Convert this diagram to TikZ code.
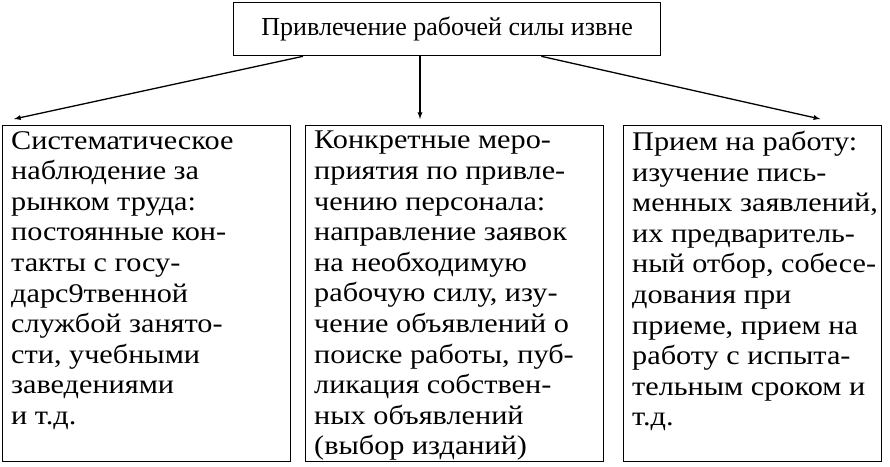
\documentclass[tikz,border=0pt]{standalone}
\usepackage{fontspec}
\setmainfont{Liberation Serif}
\newfontfamily\boxfont[FakeStretch=1.12]{Liberation Serif}
\usetikzlibrary{positioning}
\tikzset{
  box/.style={draw, line width=1.3pt, inner sep=0pt},
  txt/.style={align=left, inner sep=0pt, font=\boxfont\fontsize{27}{30.6}\selectfont},
  arr/.style={->, >=latex, line width=1.3pt}
}
\begin{document}
\begin{tikzpicture}[x=1pt,y=-1pt]
        \useasboundingbox (0,0) rectangle (890,466);
        \node (top) [box, minimum width=427, minimum height=53, anchor=north west] at (233,2) {};
        \node (toptxt) [txt, font=\fontsize{26}{30}\selectfont, anchor=center] at (top.center) {Привлечение рабочей силы извне};

        \node (lbox) [box, minimum width=288, minimum height=336, anchor=north west] at (2,125) {};
        \node (mbox) [box, minimum width=298, minimum height=336, anchor=north west] at (305,125) {};
        \node (rbox) [box, minimum width=258, minimum height=336, anchor=north west] at (623,125) {};

        \node (ltxt) [txt, anchor=north west] at ([xshift=9,yshift=-6]lbox.north west)
            {Систематическое\\наблюдение за\\рынком труда:\\постоянные кон-\\такты с госу-\\дарс9твенной\\службой занято-\\сти, учебными\\заведениями\\и т.д.};
        \node (mtxt) [txt, anchor=north west] at ([xshift=9,yshift=-6]mbox.north west)
            {Конкретные меро-\\приятия по привле-\\чению персонала:\\направление заявок\\на необходимую\\рабочую силу, изу-\\чение объявлений о\\поиске работы, пуб-\\ликация собствен-\\ных объявлений\\(выбор изданий)};
        \node (rtxt) [txt, anchor=north west] at ([xshift=9,yshift=-6]rbox.north west)
            {Прием на работу:\\изучение пись-\\менных заявлений,\\их предваритель-\\ный отбор, собесе-\\дования при\\приеме, прием на\\работу с испыта-\\тельным сроком и\\т.д.};

        \draw[arr] ([xshift=70]top.south west) -- ([xshift=12,yshift=6]lbox.north west);
        \draw[arr] ([xshift=187]top.south west) -- ([xshift=115,yshift=6]mbox.north west);
        \draw[arr] ([xshift=-120]top.south east) -- ([xshift=-62,yshift=6]rbox.north east);
\end{tikzpicture}
\end{document}
